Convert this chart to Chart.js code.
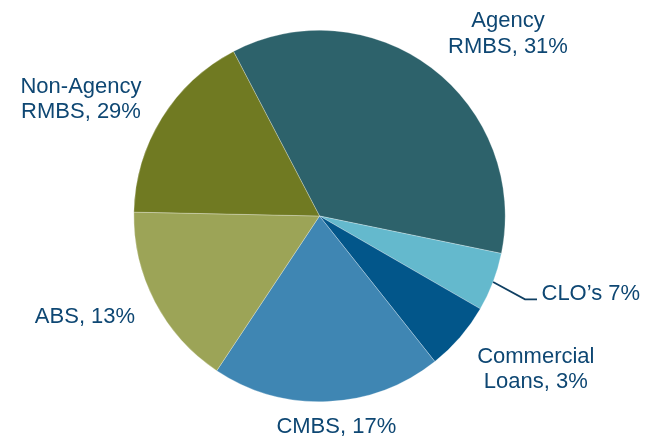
<!DOCTYPE html>
<html>
<head>
<meta charset="utf-8">
<script src="https://cdn.jsdelivr.net/npm/chart.js@4"></script>
<style>
  html, body { margin: 0; padding: 0; background: #ffffff; }
  #wrap { width: 650px; height: 437px; }
</style>
</head>
<body>
<div id="wrap"><canvas id="c" width="650" height="437"></canvas></div>
<script>
// ---- data ----
const categories = ['Agency RMBS', 'CLO\u2019s', 'Commercial Loans', 'CMBS', 'ABS', 'Non-Agency RMBS'];
const sliceShares = [35.9, 5.1, 6.0, 20.0, 16.0, 17.0];
const labelPercents = ['31%', '7%', '3%', '17%', '13%', '29%'];
const labelLines = [
  ['Agency', 'RMBS, ' + labelPercents[0]],
  ['CLO\u2019s ' + labelPercents[1]],
  ['Commercial', 'Loans, ' + labelPercents[2]],
  ['CMBS, ' + labelPercents[3]],
  ['ABS, ' + labelPercents[4]],
  ['Non-Agency', 'RMBS, ' + labelPercents[5]]
];

// ---- style ----
const sliceColors = ['#2D626B', '#64B9CD', '#02568A', '#3F86B3', '#9CA457', '#707A22'];
const textColor = '#0E4773';
const fontSpec = '22px "Liberation Sans", Arial, sans-serif';
const lineHeight = 25.5;
// label anchor offsets relative to pie centre (px): [dx, dyFirstBaseline, align]
const labelPlacement = [
  [188.5, -189, 'center'],
  [222, 83.5, 'left'],
  [216.3, 146.8, 'center'],
  [16.8, 217.3, 'center'],
  [-234.5, 107.3, 'center'],
  [-238.5, -123.5, 'center']
];

const labelPlugin = {
  id: 'sliceLabels',
  afterDraw(chart) {
    const ctx = chart.ctx;
    const meta = chart.getDatasetMeta(0);
    const arc0 = meta.data[0];
    const cx = arc0.x, cy = arc0.y;
    ctx.save();
    ctx.font = fontSpec;
    ctx.fillStyle = textColor;
    ctx.textBaseline = 'alphabetic';
    labelLines.forEach((lines, i) => {
      const [dx, dy, align] = labelPlacement[i];
      ctx.textAlign = align;
      lines.forEach((t, j) => {
        ctx.fillText(t, cx + dx, cy + dy + j * lineHeight);
      });
    });
    // leader line for CLO's
    const clo = meta.data[1];
    const mid = (clo.startAngle + clo.endAngle) / 2;
    const sx = cx + Math.cos(mid) * clo.outerRadius;
    const sy = cy + Math.sin(mid) * clo.outerRadius;
    ctx.beginPath();
    ctx.strokeStyle = '#0F3F62';
    ctx.lineWidth = 1.8;
    ctx.moveTo(sx, sy);
    ctx.lineTo(cx + 205.5, cy + 83.3);
    ctx.lineTo(cx + 217.5, cy + 83.3);
    ctx.stroke();
    ctx.restore();
  }
};

new Chart(document.getElementById('c'), {
  type: 'pie',
  data: {
    labels: categories,
    datasets: [{
      data: sliceShares,
      backgroundColor: sliceColors,
      borderColor: 'rgba(255,255,255,0.45)',
      borderWidth: 0.6
    }]
  },
  options: {
    responsive: false,
    animation: false,
    rotation: -27.6,
    layout: { padding: { top: 30, bottom: 35, left: 133.5, right: 144.5 } },
    plugins: {
      legend: { display: false },
      tooltip: { enabled: false }
    }
  },
  plugins: [labelPlugin]
});
</script>
</body>
</html>
